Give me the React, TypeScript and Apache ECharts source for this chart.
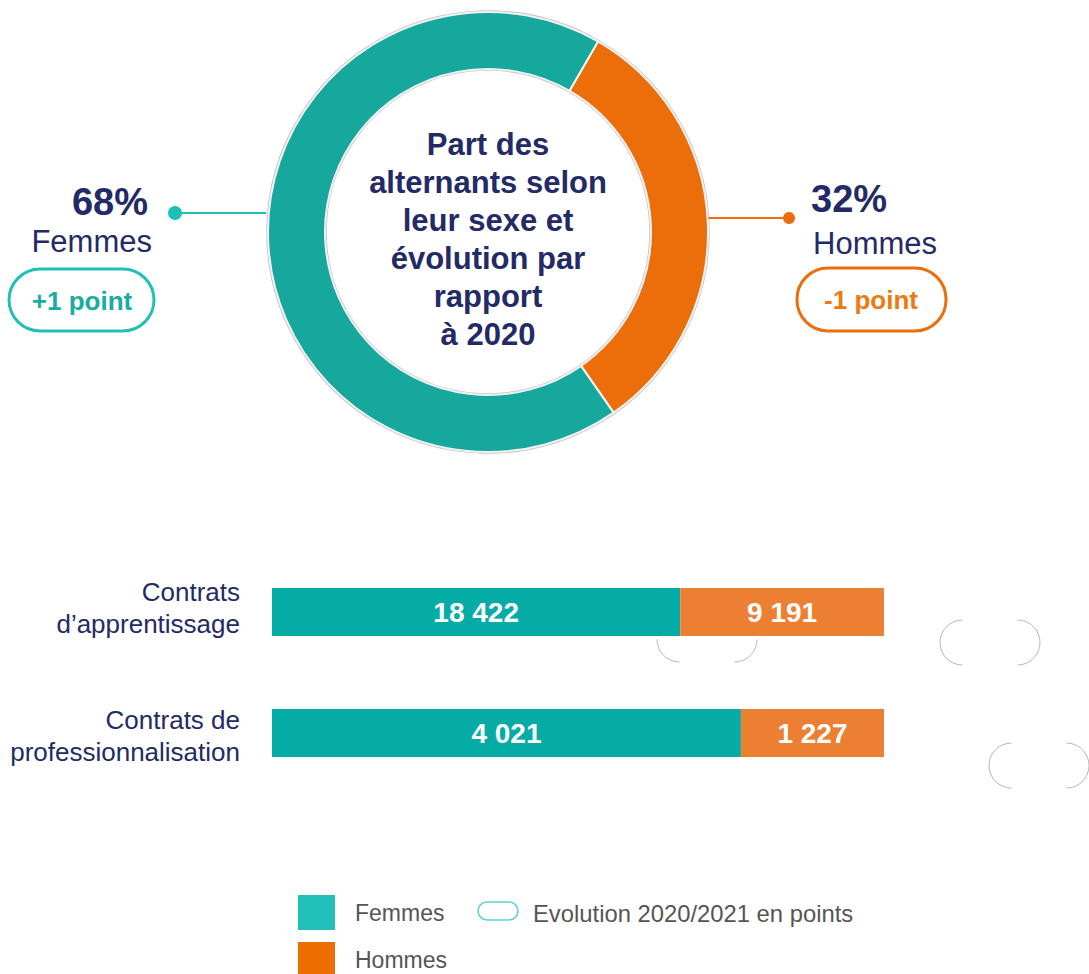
import React, { useEffect, useRef } from "react";
import * as echarts from "echarts";

const donutNames = ["Hommes", "Femmes"];
const donutShares = [32, 68];
const donutColors = ["#eb6e0b", "#17a89d"];

const contractCategories = ["Contrats\nd’apprentissage", "Contrats de\nprofessionnalisation"];
const femmesCounts = [18422, 4021];
const hommesCounts = [9191, 1227];

const NAVY = "#232a66";
const FONT = "'Liberation Sans', Arial, sans-serif";

const fmt = (n: number) => String(n).replace(/\B(?=(\d{3})+(?!\d))/g, " ");

export default function App() {
  const ref = useRef<HTMLDivElement>(null);
  useEffect(() => {
    if (!ref.current) return;
    const chart = echarts.init(ref.current, undefined, { renderer: "svg" });
    const totals = femmesCounts.map((f, i) => f + hommesCounts[i]);
    const femPct = femmesCounts.map((f, i) => (f / totals[i]) * 100);
    const homPct = hommesCounts.map((h, i) => (h / totals[i]) * 100);

    const capArcs = (x: number, y: number, w: number, h: number, leftRange: [number, number], rightRange: [number, number]) => {
      const r = h / 2;
      return [
        { type: "arc", shape: { cx: x + r, cy: y + r, r, startAngle: leftRange[0], endAngle: leftRange[1] }, style: { stroke: "#b8b8b8", lineWidth: 1, fill: null } },
        { type: "arc", shape: { cx: x + w - r, cy: y + r, r, startAngle: rightRange[0], endAngle: rightRange[1] }, style: { stroke: "#b8b8b8", lineWidth: 1, fill: null } },
      ];
    };
    const P = Math.PI;

    chart.setOption({
      animation: false,
      textStyle: { fontFamily: FONT },
      grid: { left: 272, width: 612, top: 551.5, height: 242 },
      xAxis: { type: "value", min: 0, max: 100, show: false },
      yAxis: {
        type: "category",
        inverse: true,
        data: contractCategories,
        axisLine: { show: false },
        axisTick: { show: false },
        axisLabel: {
          fontSize: 26,
          lineHeight: 32,
          color: NAVY,
          margin: 32,
          align: "right",
          fontFamily: FONT,
          formatter: (v: string, i: number) => (i === 0 ? `${v}\n{gapB| }` : `{gapT| }\n${v}`),
          rich: {
            gapB: { lineHeight: 9, fontSize: 2, height: 9 },
            gapT: { lineHeight: 6, fontSize: 2, height: 6 },
          },
        },
      },
      series: [
        {
          type: "pie",
          center: [488, 232],
          radius: [163, 220],
          startAngle: 60,
          clockwise: true,
          label: { show: false },
          labelLine: { show: false },
          silent: true,
          itemStyle: { borderColor: "#f2f2f2", borderWidth: 2 },
          data: donutNames.map((n, i) => ({ name: n, value: donutShares[i], itemStyle: { color: donutColors[i] } })),
        },
        {
          type: "bar",
          name: "Femmes",
          stack: "t",
          barWidth: 48,
          itemStyle: { color: "#05aca6" },
          label: {
            show: true,
            color: "#fff",
            fontWeight: "bold",
            fontSize: 28,
            fontFamily: FONT,
            formatter: (p: any) => fmt(femmesCounts[p.dataIndex]),
          },
          data: femPct,
        },
        {
          type: "bar",
          name: "Hommes",
          stack: "t",
          barWidth: 48,
          itemStyle: { color: "#ed7f33" },
          label: {
            show: true,
            color: "#fff",
            fontWeight: "bold",
            fontSize: 28,
            fontFamily: FONT,
            formatter: (p: any) => fmt(hommesCounts[p.dataIndex]),
          },
          data: homPct,
        },
      ],
      graphic: [
        { type: "circle", shape: { cx: 488, cy: 232, r: 221 }, style: { fill: null, stroke: "#c4c4c4", lineWidth: 1.5 } },
        { type: "circle", shape: { cx: 488, cy: 232, r: 162 }, style: { fill: null, stroke: "#c4c4c4", lineWidth: 1.5 } },
        {
          type: "text", x: 488, y: 239,
          style: { text: "Part des\nalternants selon\nleur sexe et\névolution par\nrapport\nà 2020", fill: NAVY, font: `bold 31px ${FONT}`, lineHeight: 38, align: "center", verticalAlign: "middle" },
        },
        // left annotation
        { type: "line", shape: { x1: 175, y1: 213, x2: 266, y2: 213 }, style: { stroke: "#1dbfb5", lineWidth: 2 } },
        { type: "circle", shape: { cx: 175, cy: 213, r: 7 }, style: { fill: "#1dbfb5" } },
        { type: "text", x: 148, y: 202, style: { text: "68%", fill: NAVY, font: `bold 38px ${FONT}`, align: "right", verticalAlign: "middle" } },
        { type: "text", x: 152, y: 241, style: { text: "Femmes", fill: NAVY, font: `31px ${FONT}`, align: "right", verticalAlign: "middle" } },
        { type: "rect", shape: { x: 9, y: 269, width: 145, height: 62, r: 31 }, style: { fill: "#fff", stroke: "#20c0b5", lineWidth: 3 } },
        { type: "text", x: 82, y: 301, style: { text: "+1 point", fill: "#19ad9f", font: `bold 26px ${FONT}`, align: "center", verticalAlign: "middle" } },
        // right annotation
        { type: "line", shape: { x1: 708, y1: 218, x2: 789, y2: 218 }, style: { stroke: "#eb6e0b", lineWidth: 2 } },
        { type: "circle", shape: { cx: 789, cy: 218, r: 6 }, style: { fill: "#eb6e0b" } },
        { type: "text", x: 811, y: 199, style: { text: "32%", fill: NAVY, font: `bold 38px ${FONT}`, align: "left", verticalAlign: "middle" } },
        { type: "text", x: 813, y: 243, style: { text: "Hommes", fill: NAVY, font: `31px ${FONT}`, align: "left", verticalAlign: "middle" } },
        { type: "rect", shape: { x: 797, y: 268, width: 149, height: 63, r: 31 }, style: { fill: "#fff", stroke: "#eb6e0b", lineWidth: 3 } },
        { type: "text", x: 871, y: 300, style: { text: "-1 point", fill: "#ec7a14", font: `bold 26px ${FONT}`, align: "center", verticalAlign: "middle" } },
        // faint pills
        ...capArcs(657, 617, 100, 45, [P / 2, P], [0, P / 2]),
        ...capArcs(940, 620, 100, 45, [P / 2, 1.5 * P], [-P / 2, P / 2]),
        ...capArcs(989, 743, 100, 45, [P / 2, 1.5 * P], [-P / 2, P / 2]),
        // legend
        { type: "rect", shape: { x: 298, y: 895, width: 37, height: 35 }, style: { fill: "#20c0b8" } },
        { type: "text", x: 355, y: 913, style: { text: "Femmes", fill: "#555", font: `23px ${FONT}`, align: "left", verticalAlign: "middle" } },
        { type: "rect", shape: { x: 298, y: 942, width: 37, height: 35 }, style: { fill: "#ec6e00" } },
        { type: "text", x: 355, y: 960, style: { text: "Hommes", fill: "#555", font: `23px ${FONT}`, align: "left", verticalAlign: "middle" } },
        { type: "rect", shape: { x: 478, y: 902, width: 40, height: 18, r: 9 }, style: { fill: "#fff", stroke: "#5fd3cc", lineWidth: 1.5 } },
        { type: "text", x: 533, y: 913, style: { text: "Evolution 2020/2021 en points", fill: "#555", font: `23.8px ${FONT}`, align: "left", verticalAlign: "middle" } },
      ],
    });
    return () => chart.dispose();
  }, []);
  return <div ref={ref} style={{ position: "fixed", left: 0, top: 0, width: 1089, height: 974, background: "#fff" }} />;
}
